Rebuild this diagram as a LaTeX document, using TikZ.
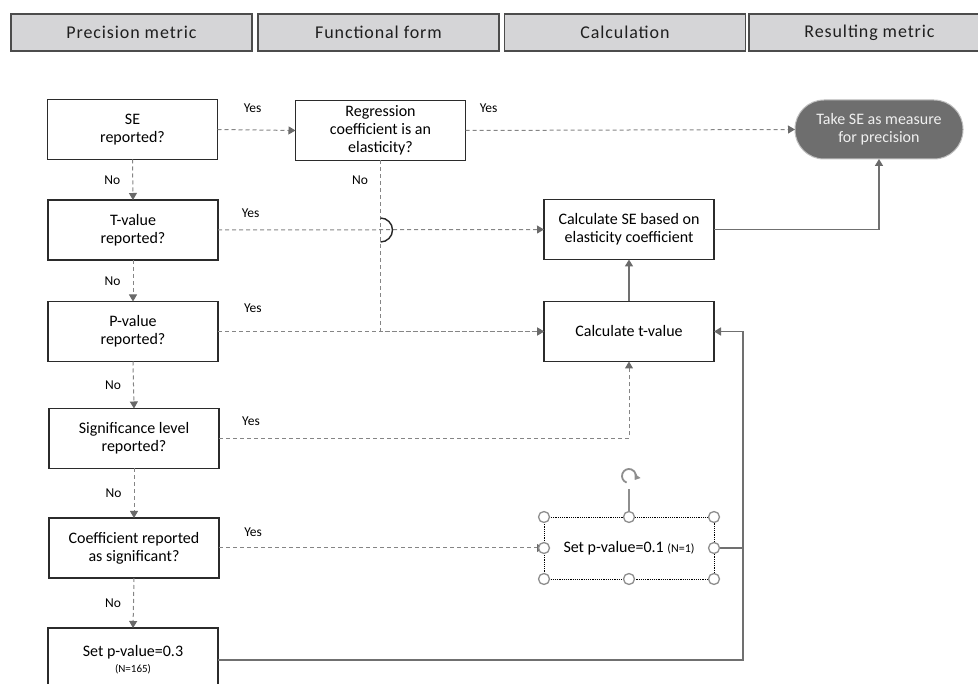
\documentclass[tikz,border=0pt]{standalone}
\usepackage{fontspec}
\setmainfont{Carlito}
\usetikzlibrary{arrows.meta,calc}

\definecolor{boxline}{HTML}{2B2B2B}
\definecolor{connline}{HTML}{858585}
\definecolor{tipgray}{HTML}{6A6A6A}
\definecolor{solidline}{HTML}{707070}
\definecolor{headfill}{HTML}{D5D5D7}
\definecolor{takefill}{HTML}{6E6E6E}
\definecolor{handlegray}{HTML}{8E8E8E}

\tikzset{
    headbox/.style={draw=black!70, fill=headfill, line width=1.5pt, minimum width=241pt, minimum height=37pt, inner sep=0pt, outer sep=0pt,
        font=\fontsize{18}{20}\selectfont\addfontfeature{LetterSpace=5}, text=black!88},
    qbox/.style={draw=boxline, line width=1.2pt, minimum width=170pt, minimum height=60pt, inner sep=2pt, outer sep=0pt,
        align=center, font=\fontsize{16}{18}\selectfont, text=black},
    selbox/.style={qbox, draw=black, densely dotted, line width=0.9pt},
    takebox/.style={draw=black!25, fill=takefill, line width=1pt, rounded corners=29pt, minimum width=168pt, minimum height=59pt,
        inner sep=2pt, outer sep=0pt, align=center, font=\fontsize{16}{18}\selectfont, text=white!94!black},
    lbl/.style={inner sep=0pt, font=\fontsize{13.5}{15}\selectfont, text=black},
    dashconn/.style={draw=connline, line width=1pt, dash pattern=on 4pt off 3pt, -{Triangle[width=8pt,length=7pt,color=tipgray]}},
    solidconn/.style={draw=solidline, line width=1.6pt, -{Triangle[width=8pt,length=7pt,color=tipgray]}},
    hop/.style={draw=black!85, line width=1.4pt},
    handle/.style={draw=handlegray, fill=white, line width=1.3pt},
}

\begin{document}
\begin{tikzpicture}[x=1pt,y=-1pt]
    \useasboundingbox (0,0) rectangle (978,684);
    % column headers
    \foreach \x/\n/\l in {131.5/hprec/Precision metric,378.5/hform/Functional form,625/hcalc/Calculation,869.5/hres/Resulting metric}{
        \node[headbox] (\n) at (\x,32.5) {\l};
    }
    % questions
    \foreach \x/\y/\n/\l in {132.5/129.5/se/{SE\\reported?},133/230/tval/{T-value\\reported?},133/331.5/pval/{P-value\\reported?},134/438.5/sig/{Significance level\\reported?},134/548/coef/{Coefficient reported\\as significant?}}{
        \node[qbox] (\n) at (\x,\y) {\l};
    }
    \node[qbox, minimum height=64pt] (setp) at (133,660) {Set p-value=0.3\\[-2pt]{\fontsize{11}{12}\selectfont (N=165)}};
    % steps
    \foreach \x/\y/\n/\l in {380.5/130.5/reg/{Regression\\coefficient is an\\elasticity?},629/229.5/calcse/{Calculate SE based on\\elasticity coefficient},629/331.5/calct/{Calculate t-value}}{
        \node[qbox] (\n) at (\x,\y) {\l};
    }
    \node[selbox, minimum height=62pt] (setpone) at (629,548) {Set p-value=0.1 {\fontsize{12}{14}\selectfont (N=1)}};
    \node[takebox] (take) at (879,129.5) {Take SE as measure\\for precision};

    % no branches
    \foreach \m/\n in {se/tval,tval/pval,pval/sig,sig/coef,coef/setp}{
        \draw[dashconn] (\m.south) -- node[lbl, left=12pt]{No} (\n.north);
    }
    \draw[dashconn] (reg.south) |- node[lbl, left=12pt, pos=.057]{No} (calct.west);
    % yes branches
    \draw[dashconn] (se.east) -- node[lbl, above=17pt, pos=.45]{Yes} (reg.west);
    \draw[dashconn] (reg.east) -- node[lbl, above=17pt, pos=.07]{Yes} (take.west);
    \draw[dashconn] (tval.east) -- node[lbl, above=11.5pt, pos=.1]{Yes} (calcse.west);
    \draw[hop] ($(reg.south |- tval.east)+(0pt,12pt)$) arc[start angle=90, end angle=-90, radius=12pt];
    \draw[dashconn] (pval.east) -- node[lbl, above=18pt, pos=.107]{Yes} (calct.west);
    \draw[dashconn] (sig.east) -| node[lbl, above=12pt, pos=.039]{Yes} (calct.south);
    \draw[dashconn] (coef.east) -- node[lbl, above=11pt, pos=.105]{Yes} (setpone.west);

    % calculation steps
    \coordinate (ret) at (743,331.5);
    \draw[solidconn] (calct) -- (calcse);
    \draw[solidconn] (calcse.east) -| (take.south);
    \draw[solidconn] (setp.east) -| (ret) -- (calct.east);
    \draw[solidconn, -] (setpone.east) -- (setpone.east -| ret);

    % selection handles
    \draw[draw=handlegray, line width=1.3pt] (setpone.north) -- ++(0pt,28pt);
    \draw[draw=handlegray, line width=1.8pt, -{Triangle[length=5pt,width=7pt]}] ($(setpone.north)+(0pt,41pt)+(250:7pt)$) arc[start angle=250, end angle=-35, radius=7pt];
    \foreach \a in {north west,north,north east,east,south east,south,south west,west}{
        \draw[handle] (setpone.\a) circle (5.5pt);
    }
\end{tikzpicture}
\end{document}
